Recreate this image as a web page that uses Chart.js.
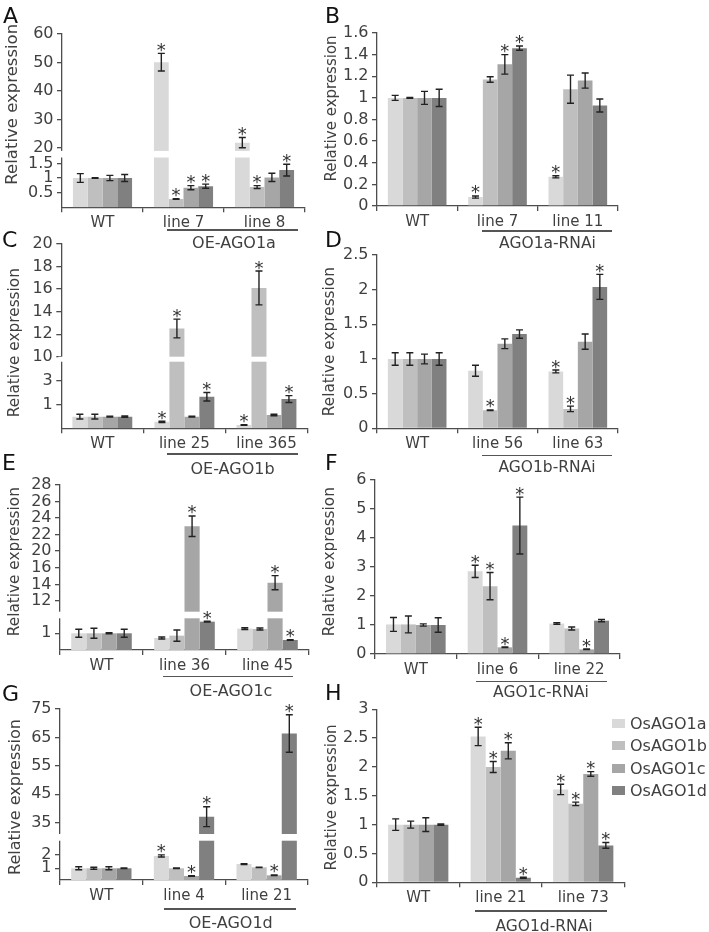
<!DOCTYPE html>
<html><head><meta charset="utf-8">
<script src="https://cdn.jsdelivr.net/npm/chart.js@4.4.1/dist/chart.umd.min.js"></script>
<style>
html,body{margin:0;padding:0;background:#fff;}
#wrap{position:relative;width:709px;height:932px;overflow:hidden;background:#fff;}
#wrap canvas{position:absolute;left:0;top:0;}
.t{position:absolute;white-space:nowrap;font-family:'DejaVu Sans',sans-serif;color:#404040;font-weight:normal;}
.ln{position:absolute;background:#555;height:1.3px;}
.sw{position:absolute;width:13px;height:9px;}
</style></head><body><div id="wrap"></div>
<script>
// ---------------- DATA ----------------
const seriesNames = ['OsAGO1a','OsAGO1b','OsAGO1c','OsAGO1d'];

const A_cats = ['WT','line 7','line 8'];
const A_OsAGO1a = [1.00, 50.1, 21.9];
const A_OsAGO1b = [1.00, 0.28, 0.69];
const A_OsAGO1c = [1.00, 0.67, 1.02];
const A_OsAGO1d = [1.00, 0.72, 1.27];
const A_err = [[0.15,3.1,1.8],[0.01,0.01,0.05],[0.09,0.07,0.14],[0.12,0.07,0.2]];
const A_sig = [[0,1,1],[0,1,1],[0,1,0],[0,1,1]];
const A_ticks = [0.5,1,1.5,20,30,40,50,60];
const A_tickLabels = ['0.5','1','1.5','20','30','40','50','60'];

const B_cats = ['WT','line 7','line 11'];
const B_OsAGO1a = [1.00, 0.083, 0.27];
const B_OsAGO1b = [1.00, 1.17, 1.08];
const B_OsAGO1c = [1.00, 1.31, 1.16];
const B_OsAGO1d = [1.00, 1.46, 0.93];
const B_err = [[0.023,0.01,0.01],[0.005,0.026,0.13],[0.06,0.09,0.07],[0.08,0.02,0.06]];
const B_sig = [[0,1,1],[0,0,0],[0,1,0],[0,1,0]];
const B_ticks = [0,0.2,0.4,0.6,0.8,1,1.2,1.4,1.6];
const B_tickLabels = ['0','0.2','0.4','0.6','0.8','1','1.2','1.4','1.6'];

const C_cats = ['WT','line 25','line 365'];
const C_OsAGO1a = [0.5, 0.28, 0.14];
const C_OsAGO1b = [0.5, 12.5, 16.1];
const C_OsAGO1c = [0.5, 0.5, 0.57];
const C_OsAGO1d = [0.5, 1.68, 1.49];
const C_err = [[0.1,0.03,0.01],[0.1,0.83,1.5],[0.02,0.02,0.03],[0.03,0.35,0.28]];
const C_sig = [[0,1,1],[0,1,1],[0,0,0],[0,1,1]];
const C_ticks = [1,3,10,12,14,16,18,20];
const C_tickLabels = ['1','3','10','12','14','16','18','20'];

const D_cats = ['WT','line 56','line 63'];
const D_OsAGO1a = [1.00, 0.83, 0.82];
const D_OsAGO1b = [1.00, 0.26, 0.28];
const D_OsAGO1c = [1.00, 1.22, 1.25];
const D_OsAGO1d = [1.00, 1.36, 2.04];
const D_err = [[0.09,0.08,0.02],[0.09,0.005,0.04],[0.07,0.07,0.11],[0.09,0.06,0.18]];
const D_sig = [[0,0,1],[0,1,1],[0,0,0],[0,0,1]];
const D_ticks = [0,0.5,1,1.5,2,2.5];
const D_tickLabels = ['0','0.5','1','1.5','2','2.5'];

const E_cats = ['WT','line 36','line 45'];
const E_OsAGO1a = [1.00, 0.72, 1.28];
const E_OsAGO1b = [1.00, 0.86, 1.26];
const E_OsAGO1c = [1.00, 23.0, 14.2];
const E_OsAGO1d = [1.00, 1.70, 0.60];
const E_err = [[0.24,0.06,0.05],[0.3,0.34,0.06],[0.03,1.25,0.85],[0.24,0.03,0.02]];
const E_sig = [[0,0,0],[0,0,0],[0,1,1],[0,1,1]];
const E_ticks = [1,12,14,16,20,22,24,26,28];
const E_tickLabels = ['1','12','14','16','20','22','24','26','28'];

const F_cats = ['WT','line 6','line 22'];
const F_OsAGO1a = [1.02, 2.85, 1.05];
const F_OsAGO1b = [1.02, 2.34, 0.88];
const F_OsAGO1c = [1.00, 0.23, 0.16];
const F_OsAGO1d = [1.00, 4.43, 1.15];
const F_err = [[0.24,0.21,0.03],[0.29,0.47,0.05],[0.04,0.01,0.01],[0.25,0.98,0.04]];
const F_sig = [[0,1,0],[0,1,0],[0,1,1],[0,1,0]];
const F_ticks = [0,1,2,3,4,5,6];
const F_tickLabels = ['0','1','2','3','4','5','6'];

const G_cats = ['WT','line 4','line 21'];
const G_OsAGO1a = [1.00, 1.93, 1.32];
const G_OsAGO1b = [1.00, 1.00, 1.07];
const G_OsAGO1c = [1.00, 0.34, 0.40];
const G_OsAGO1d = [1.00, 37.1, 66.4];
const G_err = [[0.12,0.08,0.03],[0.08,0.02,0.02],[0.12,0.03,0.03],[0.03,3.5,6.6]];
const G_sig = [[0,1,0],[0,0,0],[0,1,1],[0,1,1]];
const G_ticks = [1,2,35,45,55,65,75];
const G_tickLabels = ['1','2','35','45','55','65','75'];

const H_cats = ['WT','line 21','line 73'];
const H_OsAGO1a = [1.00, 2.53, 1.61];
const H_OsAGO1b = [1.00, 2.00, 1.36];
const H_OsAGO1c = [1.00, 2.28, 1.88];
const H_OsAGO1d = [1.00, 0.08, 0.64];
const H_err = [[0.1,0.16,0.09],[0.06,0.095,0.03],[0.12,0.14,0.04],[0.01,0.01,0.05]];
const H_sig = [[0,1,1],[0,1,1],[0,1,1],[0,1,1]];
const H_ticks = [0,0.5,1,1.5,2,2.5,3];
const H_tickLabels = ['0','0.5','1','1.5','2','2.5','3'];

const groupLabels = ['OE-AGO1a','AGO1a-RNAi','OE-AGO1b','AGO1b-RNAi','OE-AGO1c','AGO1c-RNAi','OE-AGO1d','AGO1d-RNAi'];
const panelLetters = ['A','B','C','D','E','F','G','H'];
const yTitle = 'Relative expression';

// ---------------- STYLE / LAYOUT ----------------
const COLORS = ['#d9d9d9','#bfbfbf','#a6a6a6','#808080'];
const AX = '#4d4d4d', TC = '#404040', FF = "'DejaVu Sans', sans-serif", FW = 'normal';
const W = 709, H = 932, YW = 40, XH = 30;
// axis geometry: knots = [value, page y] pairs (piecewise axis for broken panels)
const LAYOUT = {
  A:{axisX:62, right:305, knots:[[0,207.3],[1.7,157.5],[19,150.9],[60,34]], gap:[1.7,19],
     letter:[3,8], title:[13.7,104.2,16.5], group:[234,243,16,167,298,230]},
  B:{axisX:377, right:618, knots:[[0,206],[1.6,33]],
     letter:[325,8], title:[331.7,108.3,15], group:[547.5,243,15.5,482,612,231]},
  C:{axisX:61.3, right:307.5, knots:[[0,428.3],[1,405],[3,380.7],[4.56,361.7],[10,356.7],[20,244]], gap:[4.56,10],
     letter:[2,232], title:[16,343,15.3], group:[232.5,469,16,167,298,454]},
  D:{axisX:377, right:618, knots:[[0,428.3],[2.5,255]],
     letter:[325,232], title:[331.7,341.7,15.3], group:[547,467.5,15.5,482,612,455.7]},
  E:{axisX:60, right:309, knots:[[0,650],[1,633.3],[1.9,618.3],[10.7,611.7],[12,601],[16,567.7],[20,551],[28,485]], gap:[1.9,10.7],
     letter:[2,455], title:[16,561.7,15.3], group:[231,691,16,163,293,676.7]},
  F:{axisX:375, right:620, knots:[[0,654],[6,480]],
     letter:[325,455], title:[331.7,561.7,15.3], group:[541,692,15.5,476,607,681.7]},
  G:{axisX:60, right:308, knots:[[0,880],[1,868.3],[2,855],[3.07,840.7],[31,834],[35,822.7],[75,709]], gap:[3.07,31],
     letter:[2,686], title:[16.3,796.7,16], group:[230.7,923,16,164,296,909]},
  H:{axisX:377, right:624.5, knots:[[0,882.3],[3,709.3]],
     letter:[325,685], title:[331.7,797,15], group:[544,926,15.5,475,607,911]}
};
const LEGEND = {x:612, tx:630, rows:[723.3,745.8,768.3,790.8], size:16};

const panels = [
  {id:'A', cats:A_cats, series:[A_OsAGO1a,A_OsAGO1b,A_OsAGO1c,A_OsAGO1d], err:A_err, sig:A_sig, ticks:A_ticks, tickLabels:A_tickLabels},
  {id:'B', cats:B_cats, series:[B_OsAGO1a,B_OsAGO1b,B_OsAGO1c,B_OsAGO1d], err:B_err, sig:B_sig, ticks:B_ticks, tickLabels:B_tickLabels},
  {id:'C', cats:C_cats, series:[C_OsAGO1a,C_OsAGO1b,C_OsAGO1c,C_OsAGO1d], err:C_err, sig:C_sig, ticks:C_ticks, tickLabels:C_tickLabels},
  {id:'D', cats:D_cats, series:[D_OsAGO1a,D_OsAGO1b,D_OsAGO1c,D_OsAGO1d], err:D_err, sig:D_sig, ticks:D_ticks, tickLabels:D_tickLabels},
  {id:'E', cats:E_cats, series:[E_OsAGO1a,E_OsAGO1b,E_OsAGO1c,E_OsAGO1d], err:E_err, sig:E_sig, ticks:E_ticks, tickLabels:E_tickLabels},
  {id:'F', cats:F_cats, series:[F_OsAGO1a,F_OsAGO1b,F_OsAGO1c,F_OsAGO1d], err:F_err, sig:F_sig, ticks:F_ticks, tickLabels:F_tickLabels},
  {id:'G', cats:G_cats, series:[G_OsAGO1a,G_OsAGO1b,G_OsAGO1c,G_OsAGO1d], err:G_err, sig:G_sig, ticks:G_ticks, tickLabels:G_tickLabels},
  {id:'H', cats:H_cats, series:[H_OsAGO1a,H_OsAGO1b,H_OsAGO1c,H_OsAGO1d], err:H_err, sig:H_sig, ticks:H_ticks, tickLabels:H_tickLabels}
];

// ---------------- piecewise (broken) linear scale ----------------
const PANEL_CFG = {};
class BrokenScale extends Chart.LinearScale {
  _cfg(){ return PANEL_CFG[this.chart.canvas.id]; }
  getPixelForValue(v){
    const c = this._cfg(); const k = c.L.knots; const n = k.length;
    let i = 0;
    while (i < n - 2 && v > k[i+1][0]) i++;
    const [v0,p0] = k[i], [v1,p1] = k[i+1];
    const p = p0 + (v - v0) * (p1 - p0) / (v1 - v0);
    const pBot = k[0][1], pTop = k[n-1][1];
    const f = (pBot - p) / (pBot - pTop);
    return this.bottom - f * (this.bottom - this.top);
  }
  getValueForPixel(px){
    const c = this._cfg(); const k = c.L.knots; const n = k.length;
    const pBot = k[0][1], pTop = k[n-1][1];
    const f = (this.bottom - px) / (this.bottom - this.top);
    const p = pBot - f * (pBot - pTop);
    let i = 0;
    while (i < n - 2 && p < k[i+1][1]) i++;
    const [v0,p0] = k[i], [v1,p1] = k[i+1];
    return v0 + (p - p0) * (v1 - v0) / (p1 - p0);
  }
  buildTicks(){ return this._cfg().ticks.map(v => ({value:v})); }
}
BrokenScale.id = 'broken';
Chart.register(BrokenScale);

const markPlugin = {
  id:'marks',
  afterDatasetsDraw(chart){
    const c = PANEL_CFG[chart.canvas.id];
    const ctx = chart.ctx, ys = chart.scales.y, area = chart.chartArea;
    if (c.L.gap){
      const yLo = ys.getPixelForValue(c.L.gap[0]);
      const yUp = ys.getPixelForValue(c.L.gap[1]);
      ctx.save(); ctx.fillStyle = '#fff';
      ctx.fillRect(area.left - 3, yLo, area.right - area.left + 5, yUp - yLo);
      ctx.restore();
    }
    chart.data.datasets.forEach((ds, i) => {
      const meta = chart.getDatasetMeta(i);
      meta.data.forEach((bar, j) => {
        const v = ds.data[j], e = ds.errors[j];
        const yt = ys.getPixelForValue(v + e), yb = ys.getPixelForValue(v - e);
        ctx.save();
        ctx.strokeStyle = '#222'; ctx.lineWidth = 1.4;
        ctx.beginPath();
        ctx.moveTo(bar.x, yt); ctx.lineTo(bar.x, yb);
        ctx.moveTo(bar.x - 3.5, yt); ctx.lineTo(bar.x + 3.5, yt);
        ctx.moveTo(bar.x - 3.5, yb); ctx.lineTo(bar.x + 3.5, yb);
        ctx.stroke();
        if (ds.sig[j]){
          ctx.fillStyle = '#333';
          ctx.font = 'normal 18px ' + FF;
          ctx.textAlign = 'center'; ctx.textBaseline = 'alphabetic';
          ctx.fillText('*', bar.x, yt + 2.5);
        }
        ctx.restore();
      });
    });
  }
};

const wrap = document.getElementById('wrap');

function makePanel(p){
  const L = LAYOUT[p.id];
  PANEL_CFG['cv' + p.id] = {L, ticks:p.ticks};
  const cv = document.createElement('canvas');
  cv.id = 'cv' + p.id; cv.width = W; cv.height = H;
  wrap.appendChild(cv);
  const k = L.knots;
  new Chart(cv, {
    type:'bar',
    data:{
      labels:p.cats,
      datasets:p.series.map((d,i) => ({
        label:seriesNames[i], data:d, errors:p.err[i], sig:p.sig[i],
        backgroundColor:COLORS[i], borderWidth:0, barPercentage:1, categoryPercentage:0.73
      }))
    },
    options:{
      responsive:false, animation:false, devicePixelRatio:1, events:[],
      layout:{padding:{left:L.axisX - YW, right:W - L.right, top:k[k.length-1][1], bottom:H - k[0][1] - XH}},
      plugins:{legend:{display:false}, tooltip:{enabled:false}},
      scales:{
        x:{type:'category', offset:true,
           grid:{offset:true, drawOnChartArea:false, drawTicks:true, tickLength:5, color:AX, lineWidth:1.3},
           border:{display:true, color:AX, width:1.3},
           ticks:{font:{family:FF, size:15, weight:FW}, color:TC, padding:2, maxRotation:0, autoSkip:false},
           afterFit(s){ s.height = XH; }},
        y:{type:'broken', min:k[0][0], max:k[k.length-1][0],
           grid:{drawOnChartArea:false, drawTicks:true, tickLength:5, color:AX, lineWidth:1.3},
           border:{display:true, color:AX, width:1.3},
           ticks:{autoSkip:false, font:{family:FF, size:16, weight:FW}, color:TC, padding:3.5,
                  callback:(v,i) => p.tickLabels[i]},
           afterFit(s){ s.width = YW; }}
      }
    },
    plugins:[markPlugin]
  });
}

function addText(s, x, baseY, size, align){
  const d = document.createElement('div');
  d.className = 't'; d.textContent = s;
  const top = baseY - 0.846 * size;
  if (align === 'center'){
    d.style.left = (x - 200) + 'px'; d.style.width = '400px'; d.style.textAlign = 'center';
  } else { d.style.left = x + 'px'; }
  d.style.top = top + 'px'; d.style.fontSize = size + 'px'; d.style.lineHeight = size + 'px';
  wrap.appendChild(d); return d;
}
function addVText(s, cx, cy, size){
  const d = document.createElement('div');
  d.className = 't'; d.textContent = s;
  const x = cx - 0.08 * size;
  d.style.left = (x - 150) + 'px'; d.style.top = (cy - size/2) + 'px';
  d.style.width = '300px'; d.style.height = size + 'px'; d.style.lineHeight = size + 'px';
  d.style.fontSize = size + 'px'; d.style.textAlign = 'center';
  d.style.transform = 'rotate(-90deg)'; d.style.transformOrigin = '50% 50%';
  wrap.appendChild(d);
}
function addLine(x0, x1, y){
  const d = document.createElement('div'); d.className = 'ln';
  d.style.left = x0 + 'px'; d.style.width = (x1 - x0) + 'px'; d.style.top = (y - 0.65) + 'px';
  wrap.appendChild(d);
}

panels.forEach((p, idx) => {
  makePanel(p);
  const L = LAYOUT[p.id];
  const lt = addText(panelLetters[idx], L.letter[0], L.letter[1] + 16, 22, 'left');
  lt.style.color = '#111';
  addVText(yTitle, L.title[0], L.title[1], L.title[2]);
  const g = L.group;
  addText(groupLabels[idx], g[0], g[1] + 0.365 * g[2], g[2], 'center');
  addLine(g[3], g[4], g[5]);
});

// legend (panel H)
seriesNames.forEach((n, i) => {
  const sw = document.createElement('div'); sw.className = 'sw';
  sw.style.background = COLORS[i];
  sw.style.left = LEGEND.x + 'px'; sw.style.top = (LEGEND.rows[i] - 4.5) + 'px';
  wrap.appendChild(sw);
  addText(n, LEGEND.tx, LEGEND.rows[i] + 0.365 * LEGEND.size, LEGEND.size, 'left');
});
</script></body></html>
